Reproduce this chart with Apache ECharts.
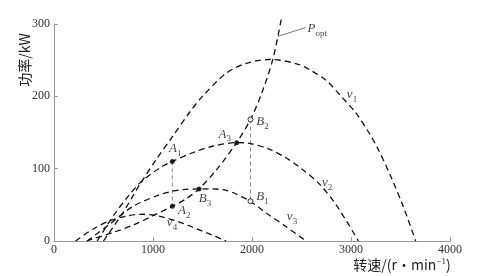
<!DOCTYPE html>
<html><head><meta charset="utf-8">
<script src="https://cdn.jsdelivr.net/npm/echarts@6/dist/echarts.min.js"></script>
<style>html,body{margin:0;padding:0;background:#fff}#c{width:497px;height:276px}</style>
</head><body><div id="c"></div>
<script>
// ---- data (rpm, kW) ----
const xTicks = [0, 1000, 2000, 3000, 4000];
const yTicks = [0, 100, 200, 300];
const v1 = [[500,0],[700,40],[866,78],[1034,113],[1200,145],[1370,178],[1500,200],[1740,232],[1950,246],[2200,251],[2450,245],[2580,237],[2750,222],[2900,200],[3050,177],[3180,150],[3270,128],[3400,90],[3530,47],[3653,0]];
const v2 = [[436,0],[600,35],[750,62],[866,80],[1067,101],[1195,110],[1400,122],[1600,131],[1845,136],[1974,135],[2175,127],[2343,115],[2500,100],[2679,79],[2850,50],[3075,0]];
const v3 = [[335,0],[550,22],[800,48],[1067,64],[1168,68],[1300,71],[1465,72],[1600,72],[1739,70],[1840,65],[1981,55],[2150,38],[2343,20],[2545,0]];
const v4 = [[218,0],[400,17],[564,28],[750,35],[900,37],[1000,36],[1101,33],[1250,27],[1403,19],[1600,8],[1739,0]];
const popt = [[330,0],[600,12],[800,22],[1000,35],[1195,48],[1330,58],[1465,72],[1650,100],[1845,136],[1985,168],[2100,205],[2210,251],[2295,306]];
const pointNames = ['A1','A2','A3','B1','B2','B3'];
const pointRpm = [1195, 1195, 1845, 1985, 1985, 1465];
const pointPower = [110, 48, 136, 55, 168, 72];
const pointFilled = [true, true, true, false, false, true];
const guideA = [[1195,110],[1195,48]];
const guideB = [[1985,168],[1985,55]];
const curveNames = ['v1','v2','v3','v4'];
const curveLabelRpm = [3010, 2758, 2404, 1192];
const curveLabelPower = [200, 79, 32, 23.5];
const poptLabelPos = [2560, 292];
const poptLeader = [[2262,283],[2540,295]];
const xName = ['转速/(r•min', '−1', ')'];
const yName = '功率/kW';

// ---- styles ----
const SERIF = 'Liberation Serif';
const labelOffsets = {A1:[3,-11], A2:[12,6], A3:[-12,-7], B1:[12,-3], B2:[12,4], B3:[6,11]};
const curveStyle = {color:'#111', width:1.3, type:[6,4]};
const richSub = {
  a:{fontFamily:SERIF, fontStyle:'italic', fontSize:13, color:'#111', lineHeight:16, verticalAlign:'top'},
  s:{fontFamily:SERIF, fontSize:9, color:'#111', lineHeight:16, verticalAlign:'bottom'}
};

const chart = echarts.init(document.getElementById('c'), null, {renderer:'canvas'});
const lineSeries = (data, clip) => ({type:'line', data, showSymbol:false, smooth:0.3, clip: clip !== false,
  lineStyle: curveStyle, silent:true, z:2});
const plain = v => String(v);

const option = {
  animation:false,
  backgroundColor:'#fff',
  grid:{left:54, right:47, top:24, bottom:35},
  xAxis:{type:'value', min:xTicks[0], max:xTicks[xTicks.length-1], interval:xTicks[1]-xTicks[0],
    axisLine:{lineStyle:{color:'#999', width:1}}, axisTick:{inside:true, length:4, lineStyle:{color:'#999'}},
    splitLine:{show:false}, axisLabel:{fontFamily:SERIF, fontSize:12, color:'#333', margin:3, formatter:plain}},
  yAxis:{type:'value', min:yTicks[0], max:yTicks[yTicks.length-1], interval:yTicks[1]-yTicks[0],
    axisLine:{show:true, lineStyle:{color:'#999', width:1}}, axisTick:{show:true, inside:true, length:4, lineStyle:{color:'#999'}},
    splitLine:{show:false}, axisLabel:{fontFamily:SERIF, fontSize:12, color:'#333', margin:4, formatter:plain}},
  series:[
    lineSeries(v1), lineSeries(v2), lineSeries(v3), lineSeries(v4), lineSeries(popt, false),
    {type:'line', data:guideA, showSymbol:false, lineStyle:{color:'#888', width:1, type:[4,3]}, z:1},
    {type:'line', data:guideB, showSymbol:false, lineStyle:{color:'#888', width:1, type:[4,3]}, z:1},
    {type:'line', data:poptLeader, showSymbol:false, lineStyle:{color:'#555', width:0.8}, clip:false, z:1},
    {type:'scatter', z:5, symbolSize:5,
      data: pointNames.map((n,i)=>({value:[pointRpm[i], pointPower[i]], name:n,
        itemStyle: pointFilled[i] ? {color:'#000'} : {color:'#fff', borderColor:'#000', borderWidth:1},
        label:{show:true, position:'inside', offset:labelOffsets[n],
          formatter:'{a|'+n[0]+'}{s|'+n[1]+'}', rich:richSub}}))},
    {type:'scatter', z:5, symbolSize:0, silent:true,
      data: curveNames.map((n,i)=>({value:[curveLabelRpm[i], curveLabelPower[i]], name:n,
        label:{show:true, position:'inside', formatter:'{a|'+n[0]+'}{s|'+n[1]+'}', rich:richSub}}))},
    {type:'scatter', z:5, symbolSize:0, silent:true, clip:false,
      data:[{value:poptLabelPos, label:{show:true, position:'right', distance:0,
        formatter:'{a|P}{s|opt}', rich:richSub}}]}
  ],
  graphic:[
    {type:'text', x:25, y:60, rotation:Math.PI/2, style:{text:yName, font:'14px "Noto Sans CJK SC"', fill:'#222', align:'center', verticalAlign:'middle'}},
    {type:'text', x:402, y:263, style:{
      text:'{a|'+xName[0]+'}{s|'+xName[1]+'}{a|'+xName[2]+'}', align:'center', verticalAlign:'middle',
      rich:{a:{font:'14px "Noto Sans CJK SC"', fill:'#222', lineHeight:18, verticalAlign:'bottom'},
            s:{font:'9px "Liberation Serif"', fill:'#222', lineHeight:18, verticalAlign:'top', padding:[3,0,0,0]}}}}
  ]
};
chart.setOption(option);
</script></body></html>
